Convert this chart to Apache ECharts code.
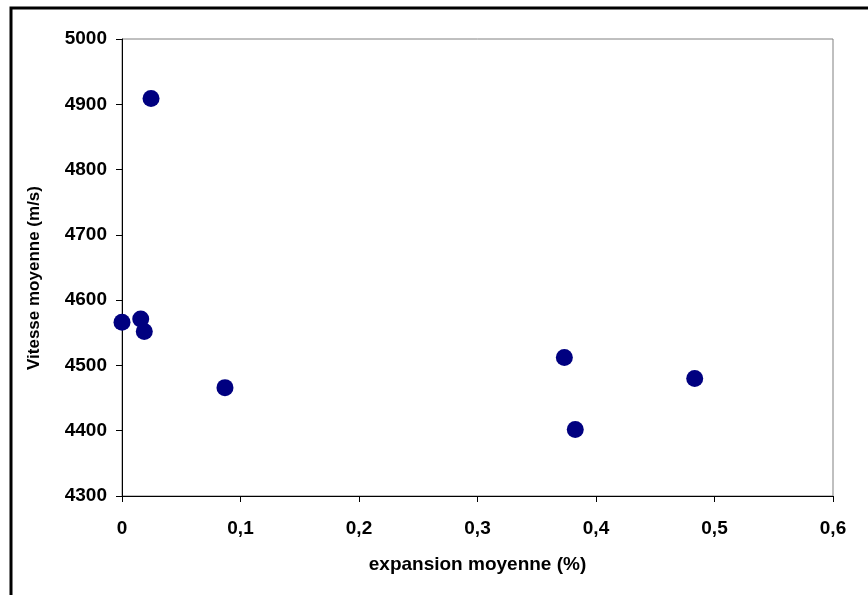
<!DOCTYPE html>
<html>
<head>
<meta charset="utf-8">
<script src="https://cdn.jsdelivr.net/npm/echarts@6/dist/echarts.min.js"></script>
<style>
  html, body { margin: 0; padding: 0; background: #fff; }
  #main { width: 868px; height: 595px; }
</style>
</head>
<body>
<div id="main"></div>
<script>
var chart = echarts.init(document.getElementById('main'));

// expansion moyenne (%) vs vitesse moyenne (m/s)
var expansion = [0, 0.0245, 0.0158, 0.0188, 0.0869, 0.3733, 0.3825, 0.4833];
var vitesse = [4566, 4909, 4571, 4552, 4466, 4512, 4402, 4480];

var points = expansion.map(function (x, i) {
    return [x, vitesse[i]];
});

var labelFont = {
    fontFamily: 'Liberation Sans, Arial, sans-serif',
    fontWeight: 'bold',
    fontSize: 19,
    color: '#000'
};

var option = {
    animation: false,
    backgroundColor: '#fff',
    graphic: [{
        type: 'rect',
        shape: { x: 11, y: 8, width: 1000, height: 800 },
        style: { fill: 'none', stroke: '#000', lineWidth: 3 },
        silent: true
    }],
    grid: {
        left: 122,
        top: 39,
        right: 35,
        bottom: 99,
        show: true,
        borderColor: '#808080',
        borderWidth: 1,
        backgroundColor: '#fff'
    },
    xAxis: {
        type: 'value',
        min: 0,
        max: 0.6,
        interval: 0.1,
        name: 'expansion moyenne (%)',
        nameLocation: 'middle',
        nameGap: 59,
        nameTextStyle: labelFont,
        axisLine: { lineStyle: { color: '#000', width: 1 } },
        axisTick: { length: 6, lineStyle: { color: '#000' } },
        splitLine: { show: false },
        axisLabel: Object.assign({
            margin: 23,
            formatter: function (v) {
                return v === 0 ? '0' : v.toFixed(1).replace('.', ',');
            }
        }, labelFont)
    },
    yAxis: {
        type: 'value',
        min: 4300,
        max: 5000,
        interval: 100,
        name: 'Vitesse moyenne (m/s)',
        nameLocation: 'middle',
        nameGap: 79,
        nameTextStyle: Object.assign({}, labelFont, { fontSize: 17, padding: [0, 21, 0, 0] }),
        axisLine: { show: true, lineStyle: { color: '#000', width: 1 } },
        axisTick: { show: true, length: 6, lineStyle: { color: '#000' } },
        splitLine: { show: false },
        axisLabel: Object.assign({
            margin: 15,
            formatter: function (v) { return String(v); }
        }, labelFont)
    },
    series: [{
        type: 'scatter',
        symbol: 'circle',
        symbolSize: 17,
        itemStyle: { color: '#000080', opacity: 1 },
        data: points
    }]
};

chart.setOption(option);
</script>
</body>
</html>
